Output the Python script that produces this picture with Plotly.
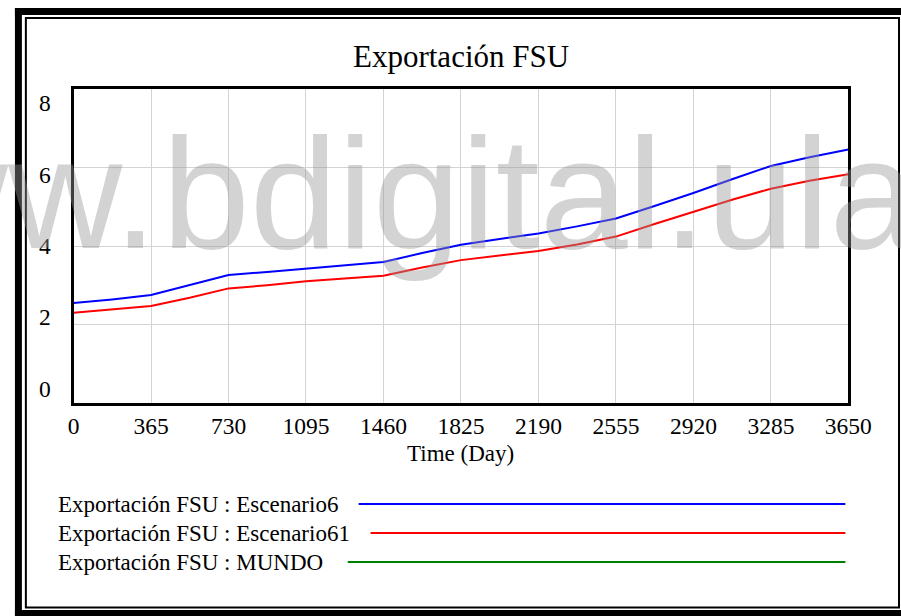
import plotly.graph_objects as go

# Simulation time (days) and exported volume per scenario
days = [0, 182, 365, 547, 730, 912, 1095, 1277, 1460, 1642, 1825, 2007,
        2190, 2372, 2555, 2737, 2920, 3102, 3285, 3467, 3650]
escenario6 = [2.55, 2.64, 2.75, 3.00, 3.26, 3.34, 3.42, 3.50, 3.59, 3.82, 4.03,
              4.18, 4.32, 4.50, 4.70, 5.02, 5.35, 5.70, 6.04, 6.26, 6.46]
escenario61 = [2.30, 2.38, 2.47, 2.68, 2.92, 3.00, 3.10, 3.17, 3.24, 3.45, 3.64,
               3.76, 3.87, 4.04, 4.24, 4.56, 4.88, 5.18, 5.46, 5.66, 5.83]
mundo = []  # no values recorded for this run

x_ticks = [0, 365, 730, 1095, 1460, 1825, 2190, 2555, 2920, 3285, 3650]
y_ticks = [0, 2, 4, 6, 8]

series_names = ["Exportación FSU : Escenario6",
                "Exportación FSU : Escenario61",
                "Exportación FSU : MUNDO"]
series_colors = ["#0000ff", "#ff0000", "#008000"]

# layout grid is designed on a 901 x 616 canvas; positions are paper fractions
GW, GH = 901, 616
FIG_W, FIG_H = 924, 616
SERIF = "Liberation Serif"
WATERMARK_FONT = dict(family="Liberation Sans", size=158,
                      color="rgba(150,150,150,0.42)")


def px(x):
    return x / GW


def py(y):
    return 1 - y / GH


fig = go.Figure()
for name, vals, col in zip(series_names, [escenario6, escenario61, mundo], series_colors):
    fig.add_trace(go.Scatter(
        x=days[:len(vals)], y=vals, mode="lines", name=name,
        line=dict(color=col, width=2), showlegend=False,
    ))

axis_common = dict(
    showgrid=True, gridcolor="#d3d3d3", gridwidth=1,
    showline=True, linecolor="black", linewidth=3, mirror=True,
    zeroline=False, ticks="",
)

fig.update_layout(
    width=FIG_W, height=FIG_H, autosize=False,
    margin=dict(l=0, r=0, t=0, b=0, pad=0),
    paper_bgcolor="white", plot_bgcolor="white",
    showlegend=False,
    xaxis=dict(
        domain=[px(68), px(848)], range=[0, 3650],
        tickvals=x_ticks, ticktext=[str(v) for v in x_ticks],
        tickfont=dict(family=SERIF, size=23.5, color="black"),
        ticklabelstandoff=0,
        **axis_common,
    ),
    yaxis=dict(
        domain=[py(403), py(89)], range=[0, 8],
        tickvals=y_ticks, showticklabels=False,
        **axis_common,
    ),
)

annotations = []

# y tick labels, packed slightly inside the axis span
for v in y_ticks:
    annotations.append(dict(
        x=px(39), xref="paper", y=4 + (v - 4) * 0.91, yref="y",
        text=str(v), showarrow=False, xanchor="center", yanchor="middle",
        font=dict(family=SERIF, size=23.5, color="black"),
    ))

# chart title and axis title
annotations.append(dict(
    x=px(458), y=py(56), xref="paper", yref="paper", text="Exportación FSU",
    showarrow=False, xanchor="center", yanchor="middle",
    font=dict(family=SERIF, size=31, color="black"),
))
annotations.append(dict(
    x=px(458), y=py(453), xref="paper", yref="paper", text="Time (Day)",
    showarrow=False, xanchor="center", yanchor="middle",
    font=dict(family=SERIF, size=23, color="black"),
))

# legend: label on the left, sample line to the right
legend_rows = [504, 533, 562]
legend_line_start = [355, 367, 344]
shapes = []
for name, col, yrow, x0 in zip(series_names, series_colors, legend_rows, legend_line_start):
    annotations.append(dict(
        x=px(50), y=py(yrow), xref="paper", yref="paper", text=name,
        showarrow=False, xanchor="left", yanchor="middle",
        font=dict(family=SERIF, size=23, color="black"),
    ))
    shapes.append(dict(
        type="line", xref="paper", yref="paper",
        x0=px(x0), x1=px(845), y0=py(yrow), y1=py(yrow),
        line=dict(color=col, width=2),
    ))

# repository watermark across the plot, split at the first dot
annotations.append(dict(
    x=px(155), y=py(193), xref="paper", yref="paper", text="bdigital.ula.ve",
    showarrow=False, xanchor="left", yanchor="middle", font=WATERMARK_FONT,
))
annotations.append(dict(
    x=px(155), y=py(193), xref="paper", yref="paper", text="www.",
    showarrow=False, xanchor="right", yanchor="middle", font=WATERMARK_FONT,
))

# double frame around the whole chart
for x0, y0, x1, y1 in [(9, 8, 901, 15), (9, 8, 16, 616), (9, 610, 901, 616)]:
    shapes.append(dict(
        type="rect", xref="paper", yref="paper",
        x0=px(x0), x1=px(x1), y0=py(y0), y1=py(y1),
        fillcolor="black", line=dict(width=0), layer="above",
    ))
shapes.append(dict(
    type="rect", xref="paper", yref="paper",
    x0=px(20), x1=px(899), y0=py(18), y1=py(607.5),
    line=dict(color="black", width=2), layer="above",
))

fig.update_layout(annotations=annotations, shapes=shapes)
fig.write_html("out.html", config={"responsive": False})
